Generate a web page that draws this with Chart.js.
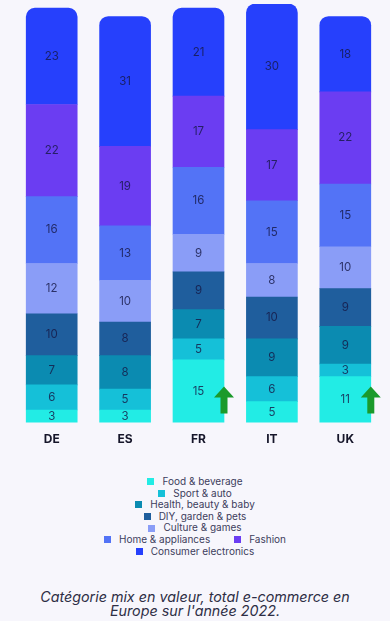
<!DOCTYPE html>
<html lang="fr">
<head>
<meta charset="utf-8">
<script src="https://cdn.jsdelivr.net/npm/chart.js@4.4.1/dist/chart.umd.min.js"></script>
<style>
  html, body { margin: 0; padding: 0; background: #f7f6fc; }
  body { width: 390px; height: 621px; overflow: hidden; font-family: Inter, "Noto Sans", sans-serif; }
  #wrap { position: relative; width: 390px; height: 453px; }
  #legend { margin-top: 23px; font-size: 10px; color: #3d3d5c; line-height: 11.6px; }
  .row { display: flex; justify-content: center; gap: 24px; }
  .item { display: flex; align-items: center; }
  .box { width: 7px; height: 7px; margin-right: 8px; }
  #caption { position: absolute; top: 590px; left: 0; width: 390px; text-align: center;
    font-style: italic; font-size: 14.3px; line-height: 14px; color: #2e2e45; }
</style>
</head>
<body>
<div id="wrap"><canvas id="mix"></canvas></div>
<div id="legend"></div>
<div id="caption">Catégorie mix en valeur, total e-commerce en<br>Europe sur l'année 2022.</div>
<script>
const countries = ["DE", "ES", "FR", "IT", "UK"];

// bottom to top
const foodBeverage = [3, 3, 15, 5, 11];
const sportAuto = [6, 5, 5, 6, 3];
const healthBeauty = [7, 8, 7, 9, 9];
const diyGarden = [10, 8, 9, 10, 9];
const cultureGames = [12, 10, 9, 8, 10];
const homeAppliances = [16, 13, 16, 15, 15];
const fashion = [22, 19, 17, 17, 22];
const consumerElectronics = [23, 31, 21, 30, 18];

// countries with a green up arrow
const arrowOn = ["FR", "UK"];

const series = [
  { label: "Food & beverage", data: foodBeverage, color: "#22ece5" },
  { label: "Sport & auto", data: sportAuto, color: "#15c0d8" },
  { label: "Health, beauty & baby", data: healthBeauty, color: "#0b8bb1" },
  { label: "DIY, garden & pets", data: diyGarden, color: "#1f5e9d" },
  { label: "Culture & games", data: cultureGames, color: "#8a9df7" },
  { label: "Home & appliances", data: homeAppliances, color: "#5373f6" },
  { label: "Fashion", data: fashion, color: "#6b3df2" },
  { label: "Consumer electronics", data: consumerElectronics, color: "#2640fc" }
];

const datasets = series.map((s, i) => ({
  label: s.label,
  data: s.data,
  backgroundColor: s.color,
  borderWidth: 0,
  barThickness: 51,
  borderRadius: i === series.length - 1 ? { topLeft: 9, topRight: 9, bottomLeft: 0, bottomRight: 0 } : 0,
  borderSkipped: false
}));

// numbers in the middle of each segment
const segmentLabels = {
  id: "segmentLabels",
  afterDatasetsDraw(chart) {
    const ctx = chart.ctx;
    ctx.save();
    ctx.font = "11.5px Inter, 'Noto Sans', sans-serif";
    ctx.fillStyle = "rgba(22, 24, 70, 0.82)";
    ctx.textAlign = "center";
    ctx.textBaseline = "middle";
    chart.data.datasets.forEach((ds, i) => {
      chart.getDatasetMeta(i).data.forEach((bar, j) => {
        const mid = (bar.y + bar.base) / 2;
        ctx.fillText(ds.data[j], bar.x, mid);
      });
    });
    ctx.restore();
  }
};

// green arrows at the bottom right of some bars
const upArrows = {
  id: "upArrows",
  afterDatasetsDraw(chart) {
    const ctx = chart.ctx;
    const meta = chart.getDatasetMeta(0);
    ctx.save();
    ctx.fillStyle = "#1b9a2b";
    arrowOn.forEach(c => {
      const bar = meta.data[countries.indexOf(c)];
      const cx = bar.x + bar.width / 2;
      const bottom = bar.base - 9;
      const top = bottom - 27;
      ctx.beginPath();
      ctx.moveTo(cx, top);
      ctx.lineTo(cx + 10, top + 11);
      ctx.lineTo(cx + 3.5, top + 11);
      ctx.lineTo(cx + 3.5, bottom);
      ctx.lineTo(cx - 3.5, bottom);
      ctx.lineTo(cx - 3.5, top + 11);
      ctx.lineTo(cx - 10, top + 11);
      ctx.closePath();
      ctx.fill();
    });
    ctx.restore();
  }
};

new Chart(document.getElementById("mix"), {
  type: "bar",
  data: { labels: countries, datasets },
  options: {
    responsive: true,
    maintainAspectRatio: false,
    animation: false,
    layout: { padding: { top: 4, left: 15, right: 8, bottom: 4 } },
    plugins: { legend: { display: false }, tooltip: { enabled: false } },
    scales: {
      x: {
        stacked: true,
        grid: { display: false },
        border: { display: false },
        ticks: { color: "#16162a", padding: 2, font: { family: "Inter, 'Noto Sans', sans-serif", size: 12, weight: "bold" } }
      },
      y: {
        stacked: true,
        display: false,
        min: 0,
        max: 100
      }
    }
  },
  plugins: [segmentLabels, upArrows]
});

// legend rows as in the original layout
const legendRows = [[0], [1], [2], [3], [4], [5, 6], [7]];
const legend = document.getElementById("legend");
legendRows.forEach(r => {
  const row = document.createElement("div");
  row.className = "row";
  r.forEach(i => {
    const item = document.createElement("div");
    item.className = "item";
    const box = document.createElement("span");
    box.className = "box";
    box.style.background = series[i].color;
    const txt = document.createElement("span");
    txt.textContent = series[i].label;
    item.append(box, txt);
    row.appendChild(item);
  });
  legend.appendChild(row);
});
</script>
</body>
</html>
